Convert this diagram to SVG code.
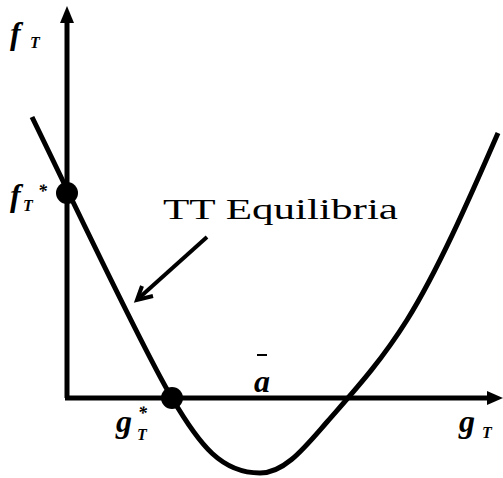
<svg xmlns="http://www.w3.org/2000/svg" width="503" height="478" viewBox="0 0 503 478">
<defs>
<style>
.ax{stroke:#000;stroke-width:5;fill:none}
.cv{stroke:#000;stroke-width:5;fill:none;stroke-linejoin:round}
.lab{font-style:italic;font-weight:bold;fill:#000}
.ttl{font-size:29px;fill:#000}
</style>
</defs>
<g id="axes">
<line class="ax" x1="67" y1="20" x2="67" y2="398"/>
<polygon points="67,6 60,23 74,23" fill="#000"/>
<line class="ax" x1="65" y1="398" x2="490" y2="398"/>
<polygon points="503,398 487,391 487,405" fill="#000"/>
</g>
<g id="curve">
<path class="cv" d="M32,117 C72,199 142,348 172,398 C200,446 222,473 260,473 C285,473 305,447 327,422 C354,391 380,363 407,320 C437,272 468,202 498,133"/>
</g>
<g id="points">
<circle cx="67" cy="193" r="11" fill="#000"/>
<circle cx="172" cy="398" r="11" fill="#000"/>
</g>
<g id="connectors">
<line x1="207" y1="237" x2="139" y2="298" stroke="#000" stroke-width="4"/>
<polyline points="142,286 137,300 153,296" fill="none" stroke="#000" stroke-width="4" stroke-linejoin="miter"/>
</g>
<g id="labels" font-family="Liberation Serif, DejaVu Serif, Times New Roman, serif">
<text class="lab" x="10" y="44" font-size="32">f</text>
<text class="lab" x="30" y="48" font-size="16">T</text>
<text class="lab" x="10" y="206" font-size="32">f</text>
<text class="lab" x="23" y="211" font-size="16">T</text>
<text class="lab" x="38" y="197" font-size="18">*</text>
<text class="lab" x="116" y="432" font-size="32">g</text>
<text class="lab" x="137" y="440" font-size="16">T</text>
<text class="lab" x="138" y="419" font-size="18">*</text>
<text class="lab" x="254" y="392" font-size="32">a</text>
<line x1="257" y1="355" x2="267" y2="355" stroke="#000" stroke-width="2"/>
<text class="lab" x="459" y="432" font-size="32">g</text>
<text class="lab" x="482" y="438" font-size="16">T</text>
<text class="ttl" x="163" y="219" textLength="235" lengthAdjust="spacingAndGlyphs">TT Equilibria</text>
</g>
</svg>
